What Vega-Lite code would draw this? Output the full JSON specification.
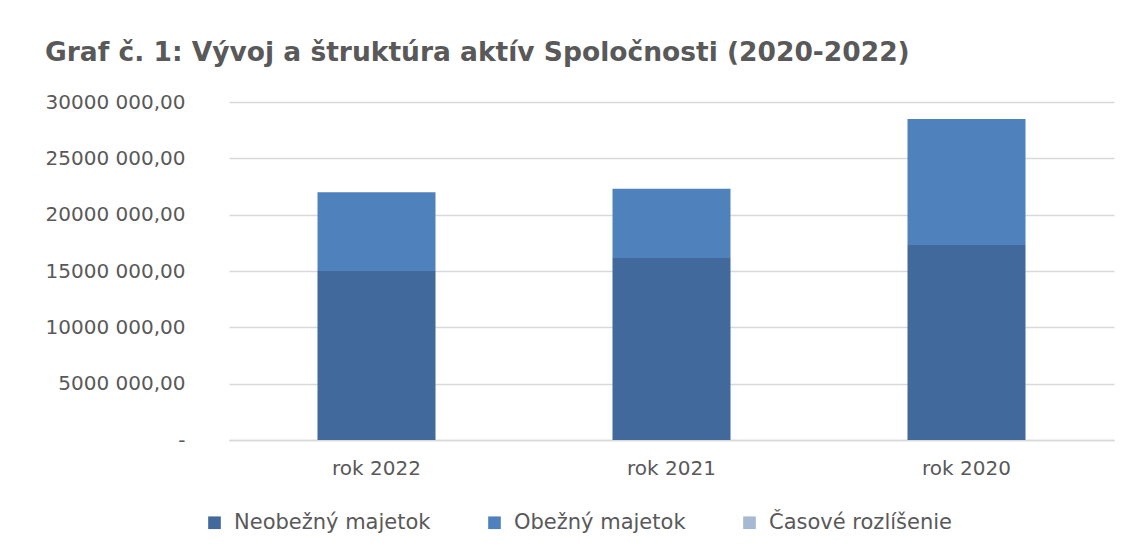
{
  "$schema": "https://vega.github.io/schema/vega-lite/v6.json",
  "width": 885,
  "height": 338,
  "autosize": "none",
  "padding": {"left": 229, "top": 102, "right": 19, "bottom": 109},
  "background": "white",
  "title": {
    "text": "Graf č. 1: Vývoj a štruktúra aktív Spoločnosti (2020-2022)",
    "anchor": "start",
    "frame": "group",
    "dx": -184,
    "offset": 26,
    "font": "DejaVu Sans",
    "fontSize": 26.5,
    "fontWeight": "bold",
    "color": "#595959"
  },
  "data": {
    "values": [
      {"rok": "rok 2022", "typ": "Neobežný majetok", "poradie": 1, "hodnota": 15000000},
      {"rok": "rok 2022", "typ": "Obežný majetok", "poradie": 2, "hodnota": 7000000},
      {"rok": "rok 2022", "typ": "Časové rozlíšenie", "poradie": 3, "hodnota": 0},
      {"rok": "rok 2021", "typ": "Neobežný majetok", "poradie": 1, "hodnota": 16150000},
      {"rok": "rok 2021", "typ": "Obežný majetok", "poradie": 2, "hodnota": 6150000},
      {"rok": "rok 2021", "typ": "Časové rozlíšenie", "poradie": 3, "hodnota": 0},
      {"rok": "rok 2020", "typ": "Neobežný majetok", "poradie": 1, "hodnota": 17300000},
      {"rok": "rok 2020", "typ": "Obežný majetok", "poradie": 2, "hodnota": 11200000},
      {"rok": "rok 2020", "typ": "Časové rozlíšenie", "poradie": 3, "hodnota": 0}
    ]
  },
  "mark": {"type": "bar"},
  "encoding": {
    "x": {
      "field": "rok",
      "type": "nominal",
      "sort": ["rok 2022", "rok 2021", "rok 2020"],
      "scale": {"paddingInner": 0.6, "paddingOuter": 0.3},
      "axis": {
        "title": null,
        "labelAngle": 0,
        "ticks": false,
        "labelPadding": 18,
        "labelFont": "DejaVu Sans",
        "labelFontSize": 20,
        "labelColor": "#595959",
        "domainColor": "#d9d9d9",
        "domainWidth": 1.5
      }
    },
    "y": {
      "field": "hodnota",
      "type": "quantitative",
      "stack": "zero",
      "scale": {"domain": [0, 30000000]},
      "axis": {
        "title": null,
        "values": [0, 5000000, 10000000, 15000000, 20000000, 25000000, 30000000],
        "labelExpr": "datum.value == 0 ? '-' : (floor(datum.value / 1000) + ' 000,00')",
        "ticks": false,
        "domain": false,
        "labelPadding": 44,
        "labelFont": "DejaVu Sans",
        "labelFontSize": 20,
        "labelColor": "#595959",
        "gridColor": "#d9d9d9",
        "gridWidth": 1.5
      }
    },
    "color": {
      "field": "typ",
      "type": "nominal",
      "sort": ["Neobežný majetok", "Obežný majetok", "Časové rozlíšenie"],
      "scale": {
        "domain": ["Neobežný majetok", "Obežný majetok", "Časové rozlíšenie"],
        "range": ["#41699c", "#4f81bd", "#a7b8d3"]
      },
      "legend": {
        "title": null,
        "orient": "none",
        "direction": "horizontal",
        "legendX": -25,
        "legendY": 410,
        "symbolType": "square",
        "symbolSize": 160,
        "symbolStrokeWidth": 0,
        "labelFont": "DejaVu Sans",
        "labelFontSize": 21,
        "labelLimit": 400,
        "labelColor": "#595959",
        "columnPadding": 53,
        "labelOffset": 9
      }
    },
    "order": {"field": "poradie", "type": "quantitative"}
  },
  "config": {"view": {"stroke": null}}
}
